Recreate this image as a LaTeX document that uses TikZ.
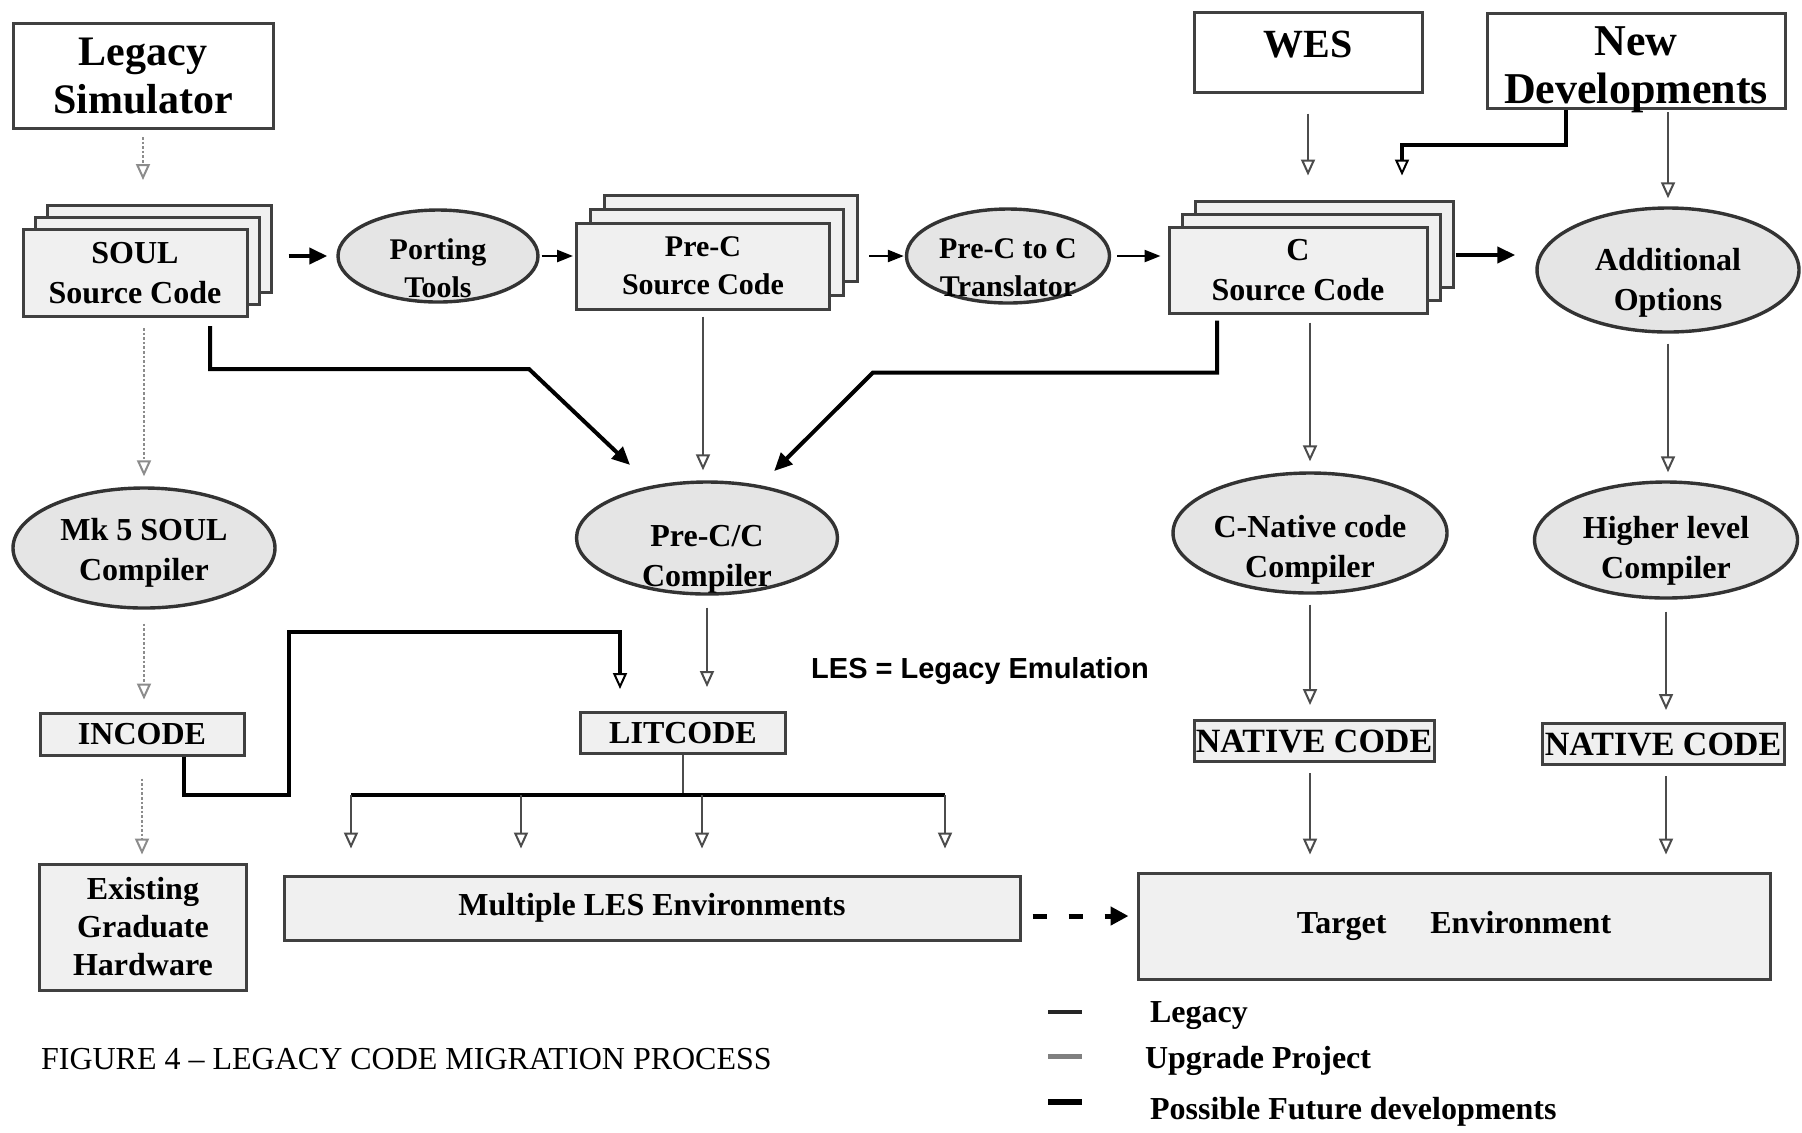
\documentclass[tikz,border=0pt]{standalone}
\usepackage{fontspec}
\setmainfont{Liberation Serif}
\newfontfamily\lessans{Liberation Sans}
\usepackage{tikz}
\usetikzlibrary{shapes.geometric}
\usetikzlibrary{shadows}
\usetikzlibrary{arrows.meta,calc}
\tikzstyle{every node}=[font=\bfseries]
\tikzstyle{plainbox}=[draw=black!75,line width=1.5pt,fill=gray!12,align=center,inner sep=0pt]
\tikzstyle{whitebox}=[plainbox,fill=white]
\tikzstyle{toolell}=[ellipse,draw=black!80,line width=1.7pt,fill=gray!20,align=center,inner sep=0pt]
\tikzset{stack/.style 2 args={plainbox,
  copy shadow={shadow xshift=#2,shadow yshift=#2,fill=gray!12,draw=black!75,line width=1.5pt},
  copy shadow={shadow xshift=#1,shadow yshift=#1,fill=gray!12,draw=black!75,line width=1.5pt}}}
\tikzstyle{bigtxt}=[font=\fontsize{21}{24}\selectfont\bfseries]
\tikzstyle{srctxt}=[font=\fontsize{16}{20}\selectfont\bfseries]
\tikzstyle{tooltxt}=[font=\fontsize{15}{19}\selectfont\bfseries]
\tikzstyle{legacyarrow}=[draw=black!45,line width=1.3pt,densely dotted,-{Triangle[open,length=8pt,width=7pt,line width=1pt]}]
\tikzstyle{upgradearrow}=[draw=black!70,line width=1.2pt,-{Triangle[open,length=8pt,width=7pt,line width=1pt]}]
\tikzstyle{upgradeline}=[draw=black!70,line width=1.2pt]
\tikzstyle{futurearrow}=[draw=black,line width=2pt,-{Triangle[length=9pt,width=8pt]}]
\tikzstyle{futureline}=[draw=black,line width=2pt]
\tikzstyle{thinarrow}=[draw=black,line width=1.2pt,-{Triangle[length=8pt,width=6pt]}]
\tikzstyle{opentip}=[-{Triangle[open,length=8pt,width=7pt,line width=1pt]}]
% text sitting low in its shape: #1 = baseline of last line, #2 = line skip
\newcommand\lowtxt[3]{\raisebox{#1}[0pt][0pt]{\baselineskip=#2\begin{tabular}[b]{@{}c@{}}#3\end{tabular}}}

\begin{document}
\begin{tikzpicture}[x=0.5pt,y=-0.5pt]
  \fill[white] (0,0) rectangle (1802,1132);
  \useasboundingbox (0,0) rectangle (1802,1132);
  % inputs
  \node[whitebox,bigtxt,minimum width=130pt,minimum height=52.5pt] (legsim) at (143,76) {Legacy\\Simulator};
  \node[whitebox,font=\fontsize{20}{25}\selectfont\bfseries,minimum width=114pt,minimum height=40pt] (wes) at (1308,52) {\raisebox{8pt}{WES}};
  \node[whitebox,font=\fontsize{22}{24}\selectfont\bfseries,minimum width=149pt,minimum height=47.5pt] (newdev) at (1636,61) {\lowtxt{-21pt}{23.5pt}{New\\Developments}};
  % source code stacks and tools
  \node[stack={6pt}{12pt},srctxt,minimum width=112pt,minimum height=43.5pt] (soul) at (135,273) {SOUL\\Source Code};
  \node[toolell,tooltxt,minimum width=100pt,minimum height=46pt] (porting) at (438,256) {\lowtxt{-20.5pt}{18.5pt}{Porting\\Tools}};
  \node[stack={7pt}{14pt},font=\fontsize{15}{19}\selectfont\bfseries,minimum width=126.5pt,minimum height=43pt] (prec) at (703,266) {Pre-C\\Source Code};
  \node[toolell,tooltxt,minimum width=101.5pt,minimum height=47pt] (transl) at (1008,256) {\lowtxt{-20pt}{19pt}{Pre-C to C\\Translator}};
  \node[stack={6.5pt}{13pt},srctxt,minimum width=129pt,minimum height=43pt] (csrc) at (1298,270) {C\\Source Code};
  \node[toolell,srctxt,minimum width=131pt,minimum height=62pt] (addopt) at (1668,270) {\lowtxt{-20pt}{18.5pt}{Additional\\Options}};
  % compilers
  \node[toolell,srctxt,minimum width=131pt,minimum height=60pt] (mksoul) at (144,548) {\lowtxt{-16pt}{19pt}{Mk 5 SOUL\\Compiler}};
  \node[toolell,srctxt,minimum width=130.5pt,minimum height=56pt] (precc) at (707,538) {\lowtxt{-24pt}{20pt}{Pre-C/C\\Compiler}};
  \node[toolell,srctxt,minimum width=137pt,minimum height=60pt] (cnative) at (1310,533) {\lowtxt{-22pt}{19.5pt}{C-Native code\\Compiler}};
  \node[toolell,srctxt,minimum width=131.5pt,minimum height=58pt] (higher) at (1666,540) {\lowtxt{-19pt}{19pt}{Higher level\\Compiler}};
  % code
  \node[plainbox,srctxt,minimum width=102pt,minimum height=21pt] (incode) at (142,734) {INCODE};
  \node[plainbox,srctxt,minimum width=102.5pt,minimum height=20.5pt] (litcode) at (683,733) {LITCODE};
  \node[plainbox,font=\fontsize{17}{20}\selectfont\bfseries,minimum width=120pt,minimum height=20.5pt] (native1) at (1314,741) {NATIVE CODE};
  \node[plainbox,font=\fontsize{17}{20}\selectfont\bfseries,minimum width=121pt,minimum height=20.5pt] (native2) at (1663,744) {NATIVE CODE};
  % environments
  \node[plainbox,font=\fontsize{16}{19}\selectfont\bfseries,minimum width=103.5pt,minimum height=63pt] (existing) at (143,927) {Existing\\Graduate\\Hardware};
  \node[plainbox,srctxt,minimum width=368pt,minimum height=32pt] (multi) at (652,908) {Multiple LES Environments};
  \node[plainbox,srctxt,minimum width=316pt,minimum height=53pt] (target) at (1454,926) {Target\hspace{22pt}Environment};
  \node[font=\lessans\fontsize{14.5}{17}\selectfont\bfseries] (lesnote) at (980,671) {LES = Legacy Emulation};

  % legacy path
  \draw[legacyarrow,shorten <=3.5pt,shorten >=24pt] (legsim.south) -- (legsim.south |- soul.north);
  \draw[legacyarrow,shorten <=5pt,shorten >=5pt] (soul.south -| mksoul.north) -- (mksoul.north);
  \draw[legacyarrow,shorten <=7pt,shorten >=6pt] (mksoul.south) -- (mksoul.south |- incode.north);
  \draw[legacyarrow,shorten <=11pt,shorten >=4pt] (incode.south) -- (incode.south |- existing.north);
  % top row
  \draw[futurearrow,shorten <=20pt,shorten >=4.5pt] (porting.west -| soul.east) -- (porting.west);
  \draw[thinarrow,shorten <=1pt,shorten >=1pt] (porting.east) -- (porting.east -| prec.west);
  \draw[thinarrow,shorten <=19pt,shorten >=0.5pt] (transl.west -| prec.east) -- (transl.west);
  \draw[thinarrow,shorten <=3pt,shorten >=3.5pt] (transl.east) -- (transl.east -| csrc.west);
  \coordinate (optin) at ([yshift=7.5pt]addopt.west);
  \draw[futurearrow,shorten <=13.5pt,shorten >=10pt] (optin -| csrc.east) -- (optin);
  \draw[upgradearrow,shorten <=10pt,shorten >=25pt] (wes.south) -- (wes.south |- csrc.north);
  \draw[futureline,opentip,shorten >=25pt] ([xshift=-35pt]newdev.south) -- ++(0,35) -| ([xshift=52pt]csrc.north);
  \draw[upgradearrow,shorten <=1pt,shorten >=4pt] (newdev.south -| addopt.north) -- (addopt.north);
  % into the compilers
  \draw[futurearrow,shorten <=4pt,shorten >=15pt] ([xshift=37.5pt]soul.south) -- ++(0,51) -- ++(319,0) -- (precc);
  \draw[futurearrow,shorten <=3pt,shorten >=10pt] ([xshift=-40.5pt]csrc.south) -- ++(0,58) -- ++(-344,0) -- (precc);
  \draw[upgradearrow,shorten <=3pt,shorten >=5pt] (prec.south) -- (prec.south |- precc.north);
  \draw[upgradearrow,shorten <=4pt,shorten >=5pt] (csrc.south -| cnative.north) -- (cnative.north);
  \draw[upgradearrow,shorten <=5pt,shorten >=4pt] (addopt.south) -- (addopt.south |- higher.north);
  % code out
  \draw[upgradearrow,shorten <=6pt,shorten >=12pt] (precc.south) -- (precc.south |- litcode.north);
  \draw[futureline,opentip,shorten >=11pt] ([xshift=21pt]incode.south) -- ++(0,38) -- ++(105,0) -- ++(0,-163) -| ([xshift=-31.5pt]litcode.north);
  \foreach \x [count=\i] in {351,521,702,945} \coordinate (drop\i) at (\x,795);
  \draw[upgradeline] (litcode.south) -- (litcode.south |- drop1);
  \draw[futureline] (drop1) -- (drop4);
  \foreach \i in {1,...,4} \draw[upgradearrow,shorten >=13pt] (drop\i) -- (drop\i |- multi.north);
  \draw[upgradearrow,shorten <=5pt,shorten >=7pt] (cnative.south) -- (cnative.south |- native1.north);
  \draw[upgradearrow,shorten <=6pt,shorten >=6pt] (higher.south) -- (higher.south |- native2.north);
  \draw[upgradearrow,shorten <=5pt,shorten >=8.5pt] (cnative.south |- native1.south) -- (cnative.south |- target.north);
  \draw[upgradearrow,shorten <=5pt,shorten >=8.5pt] (higher.south |- native2.south) -- (higher.south |- target.north);
  \coordinate (dashout) at ([yshift=-4pt]multi.east);
  \draw[draw=black,line width=2.5pt,dash pattern=on 7pt off 11pt,-{Triangle[length=9pt,width=9pt]},shorten <=5.5pt,shorten >=4pt] (dashout) -- (dashout -| target.west);

  % legend and caption
  \draw[draw=black!85,line width=2pt] (1048,1012) -- (1082,1012);
  \draw[draw=black!50,line width=2.5pt] (1048,1056) -- (1082,1056);
  \draw[draw=black,line width=3pt] (1048,1102) -- (1082,1102);
  \node[anchor=west,srctxt] (lglegacy) at (1143,1016) {Legacy};
  \node[anchor=west,srctxt] (lgupgrade) at (1138,1061) {Upgrade Project};
  \node[anchor=west,srctxt] (lgfuture) at (1143,1112) {Possible Future developments};
  \node[anchor=west,font=\fontsize{16}{19}\selectfont] (caption) at (34,1059) {FIGURE 4 – LEGACY CODE MIGRATION PROCESS};
\end{tikzpicture}
\end{document}
